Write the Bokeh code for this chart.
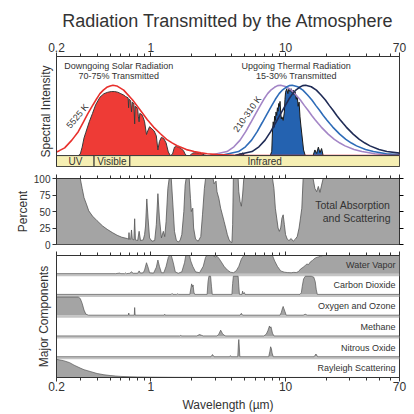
from bokeh.plotting import figure
from bokeh.layouts import column
from bokeh.models import (Range1d, FixedTicker, LinearAxis, LogAxis, Label,
                          CustomJSTickFormatter)
from bokeh.embed import file_html
from bokeh.resources import INLINE

FONT = "Liberation Sans"
TXT = "#333333"
LINE = "#333333"

TITLE = "Radiation Transmitted by the Atmosphere"
x_tick_vals = [0.2, 1, 10, 70]
x_minor_vals = [0.3, 0.4, 0.5, 0.6, 0.7, 0.8, 0.9, 2, 3, 4, 5, 6, 7, 8, 9,
                20, 30, 40, 50, 60]
pct_ticks = [0, 25, 50, 75, 100]

band_names = ["UV", "Visible", "Infrared"]
band_left = [0.2, 0.38, 0.7]
band_right = [0.38, 0.7, 70]
band_center = [0.276, 0.516, 7.0]

# ---- Spectral intensity panel (normalised) ----
solar_bb_wl = [0.2, 0.21, 0.23, 0.26, 0.29, 0.315, 0.34, 0.367, 0.395, 0.42, 0.445,
               0.472, 0.5, 0.5245, 0.56, 0.63, 0.734, 0.84, 0.944, 1.05, 1.18, 1.31,
               1.44, 1.57, 1.84, 2.1, 2.36, 2.62, 3.15, 4.2, 5.5, 7.0, 10.0, 70.0]
solar_bb_val = [0.05, 0.07, 0.11, 0.22, 0.34, 0.47, 0.59, 0.70, 0.80, 0.88, 0.93,
                0.97, 0.99, 1.0, 0.99, 0.93, 0.79, 0.64, 0.51, 0.405, 0.31, 0.23,
                0.18, 0.14, 0.085, 0.057, 0.039, 0.027, 0.014, 0.005, 0.002, 0.001, 0.0, 0.0]

therm310_wl = [2.76, 3.68, 4.14, 4.6, 5.06, 5.52, 5.98, 6.44, 6.9, 7.36, 7.82, 8.28, 8.74,
               9.2, 10.12, 11.04, 11.96, 12.88, 13.8, 14.72, 15.64, 16.56, 17.48, 18.4,
               20.7, 23.0, 25.3, 27.6, 32.2, 36.8, 46.0, 55.2, 70.0]
therm260_wl = [3.36, 4.48, 5.04, 5.6, 6.16, 6.72, 7.28, 7.84, 8.4, 8.96, 9.52, 10.08, 10.64,
               11.2, 12.32, 13.44, 14.56, 15.68, 16.8, 17.92, 19.04, 20.16, 21.28, 22.4,
               25.2, 28.0, 30.8, 33.6, 39.2, 44.8, 56.0, 67.2, 70.0]
therm210_wl = [4.23, 5.64, 6.345, 7.05, 7.755, 8.46, 9.165, 9.87, 10.575, 11.28, 11.985,
               12.69, 13.395, 14.1, 15.51, 16.92, 18.33, 19.74, 21.15, 22.56, 23.97, 25.38,
               26.79, 28.2, 31.725, 35.25, 38.775, 42.3, 49.35, 56.4, 70.0]
therm310_val = [0.004, 0.057, 0.125, 0.22, 0.34, 0.47, 0.59, 0.70, 0.80, 0.88, 0.935, 0.97,
                0.994, 1.0, 0.978, 0.93, 0.86, 0.79, 0.71, 0.64, 0.57, 0.51, 0.455, 0.405,
                0.305, 0.23, 0.178, 0.138, 0.0865, 0.057, 0.027, 0.014, 0.006]
therm260_val = [0.004, 0.057, 0.125, 0.22, 0.34, 0.47, 0.59, 0.70, 0.80, 0.88, 0.935, 0.97,
                0.994, 1.0, 0.978, 0.93, 0.86, 0.79, 0.71, 0.64, 0.57, 0.51, 0.455, 0.405,
                0.305, 0.23, 0.178, 0.138, 0.0865, 0.057, 0.027, 0.014, 0.012]
therm210_val = [0.004, 0.057, 0.125, 0.22, 0.34, 0.47, 0.59, 0.70, 0.80, 0.88, 0.935, 0.97,
                0.994, 1.0, 0.978, 0.93, 0.86, 0.79, 0.71, 0.64, 0.57, 0.51, 0.455, 0.405,
                0.305, 0.23, 0.178, 0.138, 0.0865, 0.057, 0.035]

solar_tr_wl = [0.29, 0.30, 0.31, 0.32, 0.33, 0.35, 0.37, 0.39, 0.42, 0.45, 0.48, 0.51, 0.54,
               0.57, 0.60, 0.63, 0.65, 0.68, 0.685, 0.69, 0.71, 0.72, 0.73, 0.75, 0.76, 0.765,
               0.78, 0.80, 0.81, 0.82, 0.83, 0.86, 0.88, 0.90, 0.93, 0.95, 0.98, 1.02, 1.06,
               1.10, 1.13, 1.16, 1.20, 1.25, 1.30, 1.35, 1.40, 1.45, 1.50, 1.55, 1.60, 1.65,
               1.70, 1.75, 1.80, 1.85, 1.95, 2.00, 2.05, 2.10, 2.20, 2.30, 2.40, 2.50, 2.60]
solar_tr_val = [0, 0.02, 0.12, 0.25, 0.33, 0.48, 0.60, 0.72, 0.83, 0.88, 0.90, 0.91, 0.91,
                0.90, 0.88, 0.86, 0.84, 0.82, 0.68, 0.80, 0.78, 0.62, 0.76, 0.73, 0.45, 0.70,
                0.69, 0.66, 0.55, 0.48, 0.60, 0.58, 0.54, 0.48, 0.30, 0.35, 0.41, 0.38, 0.35,
                0.28, 0.08, 0.20, 0.26, 0.24, 0.18, 0.05, 0.0, 0.02, 0.12, 0.13, 0.12, 0.11,
                0.09, 0.07, 0.02, 0, 0, 0.02, 0.035, 0.04, 0.04, 0.035, 0.025, 0.01, 0.0]

therm_tr_wl = [4.5, 4.6, 4.7, 4.8, 4.9, 5.0, 7.7, 7.9, 8.0, 8.1, 8.2, 8.3, 8.4, 8.5, 8.6,
               8.7, 8.8, 8.9, 9.0, 9.1, 9.2, 9.3, 9.4, 9.6, 9.8, 9.9, 10.0, 10.2, 10.4, 10.6,
               10.8, 11.0, 11.2, 11.4, 11.6, 11.8, 12.0, 12.2, 12.4, 12.6, 12.8, 13.0, 13.3,
               13.6, 14.0, 16.0, 16.5, 17.0, 17.5, 18.0, 18.5, 19.0]
therm_tr_val = [0, 0.03, 0.01, 0.04, 0.01, 0, 0, 0.06, 0.35, 0.48, 0.40, 0.56, 0.50, 0.62,
                0.57, 0.68, 0.63, 0.74, 0.70, 0.77, 0.62, 0.52, 0.55, 0.50, 0.62, 0.80, 0.90,
                0.95, 0.88, 0.96, 0.91, 0.95, 0.89, 0.93, 0.86, 0.90, 0.80, 0.84, 0.70, 0.76,
                0.55, 0.42, 0.25, 0.08, 0, 0, 0.08, 0.03, 0.12, 0.04, 0.10, 0]

# ---- Total absorption and scattering (%) ----
tot_wl = [0.2, 0.3, 0.31, 0.32, 0.335, 0.347, 0.37, 0.4, 0.44, 0.475,
          0.52, 0.563, 0.61, 0.67, 0.685, 0.69, 0.695, 0.71, 0.72, 0.73,
          0.75, 0.76, 0.77, 0.8, 0.82, 0.84, 0.88, 0.9, 0.915, 0.935,
          0.955, 0.98, 1.02, 1.07, 1.1, 1.13, 1.16, 1.2, 1.24, 1.27,
          1.3, 1.34, 1.37, 1.42, 1.46, 1.5, 1.55, 1.6, 1.65, 1.7,
          1.76, 1.8, 1.83, 1.93, 1.97, 2.0, 2.05, 2.08, 2.15, 2.25,
          2.35, 2.42, 2.5, 2.55, 2.9, 2.95, 3.05, 3.1, 3.2, 3.3,
          3.4, 3.5, 3.6, 3.7, 3.8, 3.9, 4.0, 4.05, 4.1, 4.45,
          4.5, 4.6, 4.7, 4.8, 4.9, 8.0, 8.2, 8.4, 8.6, 8.8,
          9.0, 9.2, 9.4, 9.6, 9.8, 10.0, 10.3, 10.6, 11.0, 11.4,
          11.8, 12.2, 12.6, 12.9, 13.2, 13.5, 16.0, 16.5, 17.0, 17.5,
          18.0, 18.5, 19.0, 70]
tot_val = [100, 100, 85, 71, 60, 51, 43, 36, 28, 23,
           18, 14, 11, 9, 8, 18, 8, 8, 22, 8,
           7, 39, 7, 6, 20, 6, 7, 15, 28, 69,
           40, 10, 5, 6, 30, 77, 40, 10, 20, 12,
           35, 85, 100, 100, 60, 20, 6, 4, 6, 15,
           50, 90, 100, 100, 70, 50, 55, 25, 8, 5,
           12, 45, 85, 100, 100, 92, 96, 80, 70, 55,
           45, 35, 25, 15, 8, 4, 3, 30, 100, 100,
           80, 65, 58, 75, 100, 100, 85, 55, 40, 25,
           20, 25, 40, 45, 30, 15, 8, 6, 9, 5,
           8, 12, 25, 40, 55, 100, 100, 85, 80, 88,
           79, 90, 100, 100]
tot_lines = ["Total Absorption", "and Scattering"]

# ---- Major components (%) ----
comp_names = ["Water Vapor", "Carbon Dioxide", "Oxygen and Ozone", "Methane",
              "Nitrous Oxide", "Rayleigh Scattering"]
h2o_wl = [0.2, 0.55, 0.59, 0.6, 0.64, 0.65, 0.66, 0.7, 0.72, 0.74, 0.8, 0.82, 0.84, 0.88,
          0.9, 0.93, 0.96, 0.98, 1.05, 1.1, 1.13, 1.16, 1.2, 1.25, 1.3, 1.35, 1.38, 1.42,
          1.47, 1.52, 1.6, 1.7, 1.78, 1.82, 1.94, 1.98, 2.05, 2.15, 2.3, 2.45, 2.55, 2.6,
          2.9, 3.0, 3.1, 3.2, 3.3, 3.5, 3.7, 3.9, 4.1, 4.3, 4.5, 4.7, 4.9, 8.0, 8.3, 8.7,
          9.2, 9.8, 10.3, 11.0, 11.5, 12.0, 12.5, 12.9, 13.5, 14.0, 14.4, 14.8, 15.3, 15.8,
          16.2, 16.8, 17.5, 18.2, 18.9, 70]
h2o_val = [0, 0, 3, 0, 0, 4, 0, 2, 10, 2, 2, 15, 3, 5,
           20, 60, 30, 5, 3, 35, 75, 40, 5, 5, 40, 90, 100, 100,
           60, 10, 2, 10, 60, 100, 100, 70, 40, 10, 5, 40, 90, 100,
           100, 92, 96, 85, 70, 40, 20, 8, 5, 15, 40, 80, 100, 100, 70, 40,
           15, 8, 6, 5, 7, 6, 12, 25, 35, 45, 53, 50, 65, 72,
           80, 88, 92, 96, 100, 100]
co2_wl = [0.2, 1.42, 1.44, 1.46, 1.56, 1.58, 1.61, 1.95, 1.98, 2.01, 2.04, 2.06, 2.09, 2.12,
          2.62, 2.66, 2.7, 2.78, 2.82, 2.86, 4.0, 4.05, 4.1, 4.45, 4.5, 4.55, 4.75, 4.8,
          4.85, 4.95, 5.0, 12.8, 13.1, 13.3, 13.6, 14.0, 15.5, 16.2, 16.6, 16.9, 17.2, 70]
co2_val = [0, 0, 5, 0, 0, 3, 0, 0, 30, 58, 42, 52, 12, 0,
           0, 70, 100, 100, 45, 0, 0, 60, 100, 100, 45, 0, 0, 18,
           4, 10, 0, 0, 10, 45, 85, 100, 100, 95, 70, 25, 0, 0]
o3_wl = [0.2, 0.29, 0.3, 0.31, 0.32, 0.33, 0.345, 0.683, 0.687, 0.692, 0.755, 0.76, 0.766,
         1.26, 1.27, 1.28, 4.6, 4.7, 4.8, 9.1, 9.3, 9.5, 9.6, 9.7, 9.9, 10.1, 13.5, 14.0,
         14.5, 70]
o3_val = [100, 100, 92, 65, 28, 6, 0, 0, 12, 0, 0, 42, 0,
          0, 5, 0, 0, 10, 0, 0, 15, 40, 48, 38, 20, 0, 0, 5,
          0, 0]
ch4_wl = [0.2, 1.64, 1.67, 1.7, 2.2, 2.3, 2.37, 2.45, 3.1, 3.2, 3.3, 3.4, 3.5, 3.6, 6.9,
          7.2, 7.4, 7.6, 7.7, 7.8, 8.0, 8.2, 70]
ch4_val = [0, 0, 3, 0, 0, 8, 4, 0, 0, 10, 32, 14, 4, 0, 0,
           10, 30, 55, 45, 50, 15, 0, 0]
n2o_wl = [0.2, 2.8, 2.87, 2.95, 3.85, 3.9, 3.95, 4.42, 4.47, 4.5, 4.53, 4.58, 7.5, 7.65,
          7.75, 7.85, 7.95, 8.1, 16.3, 16.8, 17.3, 70]
n2o_val = [0, 0, 12, 0, 0, 6, 0, 0, 70, 95, 65, 0, 0, 30,
           55, 45, 20, 0, 0, 15, 0, 0]
ray_wl = [0.2, 0.225, 0.25, 0.27, 0.3, 0.32, 0.36, 0.4, 0.45, 0.5, 0.55, 0.6, 0.7, 0.8,
          1.0, 1.5, 3.0, 70]
ray_val = [100, 93, 82, 68, 52, 43, 32, 22, 15, 11, 8, 6, 4, 3, 2, 1, 0.5, 0]

comp_wl = [h2o_wl, co2_wl, o3_wl, ch4_wl, n2o_wl, ray_wl]
comp_val = [h2o_val, co2_val, o3_val, ch4_val, n2o_val, ray_val]

GRAY_FILL = "#a4a4a4"
GRAY_LINE = "#555555"
W = 408
LEFT = 56
RIGHT = 9


def hide_labels(ax):
    ax.major_label_text_font_size = "1px"
    ax.major_label_text_alpha = 0
    ax.major_label_standoff = 0


def style_xaxis(ax, show_labels):
    ax.ticker = FixedTicker(ticks=x_tick_vals, minor_ticks=x_minor_vals)
    ax.axis_line_color = LINE
    ax.major_tick_line_color = LINE
    ax.minor_tick_line_color = LINE
    ax.major_tick_in = 0
    ax.major_tick_out = 4
    ax.minor_tick_in = 0
    ax.minor_tick_out = 3
    if show_labels:
        ax.formatter = CustomJSTickFormatter(code="return String(tick);")
        ax.major_label_text_font = FONT
        ax.major_label_text_font_size = "12px"
        ax.major_label_text_color = TXT
        ax.major_label_standoff = 1
    else:
        hide_labels(ax)


def style_ylabel(ax, label, standoff):
    ax.axis_label = label
    ax.axis_label_text_font = FONT
    ax.axis_label_text_font_size = "12px"
    ax.axis_label_text_font_style = "normal"
    ax.axis_label_text_color = TXT
    ax.axis_label_standoff = standoff
    ax.axis_line_color = LINE


def no_ticks(ax):
    ax.ticker = FixedTicker(ticks=[])
    ax.major_tick_in = 0
    ax.major_tick_out = 0
    ax.minor_tick_in = 0
    ax.minor_tick_out = 0
    hide_labels(ax)


def base(p):
    p.grid.visible = False
    p.outline_line_color = LINE
    p.outline_line_width = 1
    p.background_fill_color = "white"
    p.border_fill_color = "white"


# ================= Panel 1 =================
p1 = figure(width=W, height=172, x_axis_type="log", x_range=Range1d(0.2, 70),
            y_range=Range1d(-0.155, 1.408), x_axis_location="above",
            output_backend="svg", toolbar_location=None, title=TITLE,
            min_border_left=LEFT, min_border_right=RIGHT, min_border_top=55,
            min_border_bottom=6)
base(p1)
p1.title.align = "center"
p1.title.text_font = FONT
p1.title.text_font_size = "18px"
p1.title.text_font_style = "normal"
p1.title.text_color = TXT
p1.title.standoff = 17
style_xaxis(p1.xaxis[0], True)
no_ticks(p1.yaxis[0])
style_ylabel(p1.yaxis[0], "Spectral Intensity", 4)

p1.varea(x=solar_tr_wl, y1=0, y2=solar_tr_val, fill_color="#ee3b36")
p1.line(solar_tr_wl, solar_tr_val, line_color="#3a3a3a", line_width=1)
p1.varea(x=therm_tr_wl, y1=0, y2=therm_tr_val, fill_color="#2462b0")
p1.line(therm_tr_wl, therm_tr_val, line_color="#1a1a1a", line_width=1)
p1.line(therm310_wl, therm310_val, line_color="#a385c6", line_width=1.6)
p1.line(therm260_wl, therm260_val, line_color="#2e6cb8", line_width=1.6)
p1.line(therm210_wl, therm210_val, line_color="#1f2b55", line_width=1.6)
p1.line(solar_bb_wl, solar_bb_val, line_color="#e8302c", line_width=1.6)

p1.quad(left=band_left, right=band_right, bottom=-0.155, top=0,
        fill_color="#f6efb3", line_color=LINE, line_width=1)
p1.text(x=band_center, y=[-0.0775] * 3, text=band_names, text_align="center",
        text_baseline="middle", text_font_size="10px", text_color=TXT,
        text_font={"value": FONT})

for txt, xx, yy in [("Downgoing Solar Radiation", 0.58, 1.28),
                    ("70-75% Transmitted", 0.58, 1.135),
                    ("Upgoing Thermal Radiation", 12.0, 1.28),
                    ("15-30% Transmitted", 12.0, 1.135)]:
    p1.add_layout(Label(x=xx, y=yy, text=txt, text_align="center",
                        text_baseline="middle", text_font=FONT,
                        text_font_size="9px", text_color=TXT))
p1.add_layout(Label(x=0.286, y=0.56, text="5525 K", text_align="center",
                    text_baseline="middle", angle=0.87, text_font=FONT,
                    text_font_size="9px", text_color=TXT))
p1.add_layout(Label(x=5.2, y=0.59, text="210-310 K", text_align="center",
                    text_baseline="middle", angle=0.96, text_font=FONT,
                    text_font_size="9px", text_color=TXT))

# ================= Panel 2 =================
p2 = figure(width=W, height=78, x_axis_type="log", x_range=Range1d(0.2, 70),
            y_range=Range1d(0, 100), x_axis_location="above",
            output_backend="svg", toolbar_location=None,
            min_border_left=LEFT, min_border_right=RIGHT, min_border_top=6,
            min_border_bottom=6)
base(p2)
style_xaxis(p2.xaxis[0], False)
ya = p2.yaxis[0]
ya.ticker = FixedTicker(ticks=pct_ticks)
ya.major_tick_in = 0
ya.major_tick_out = 4
ya.minor_tick_out = 0
ya.minor_tick_in = 0
ya.major_tick_line_color = LINE
ya.major_label_text_font = FONT
ya.major_label_text_font_size = "10px"
ya.major_label_text_color = TXT
ya.major_label_standoff = 2
style_ylabel(ya, "Percent", 1)
ra = LinearAxis(ticker=FixedTicker(ticks=pct_ticks), major_tick_in=0, major_tick_out=4,
                minor_tick_out=0, minor_tick_in=0, axis_line_color=LINE)
hide_labels(ra)
p2.add_layout(ra, "right")

p2.varea(x=tot_wl, y1=0, y2=tot_val, fill_color=GRAY_FILL)
p2.line(tot_wl, tot_val, line_color=GRAY_LINE, line_width=0.8)
p2.add_layout(Label(x=60, y=60, text=tot_lines[0], text_align="right",
                    text_baseline="middle", text_font=FONT, text_font_size="10.5px",
                    text_color=TXT))
p2.add_layout(Label(x=60, y=40, text=tot_lines[1], text_align="right",
                    text_baseline="middle", text_font=FONT, text_font_size="10.5px",
                    text_color=TXT))

# ================= Panel 3 =================
ROW_H = 0.8917
SEP = 0.13
p3 = figure(width=W, height=165, x_axis_type="log", x_range=Range1d(0.2, 70),
            y_range=Range1d(0, 6), x_axis_location="below",
            output_backend="svg", toolbar_location=None,
            min_border_left=LEFT, min_border_right=RIGHT, min_border_top=5,
            min_border_bottom=38)
base(p3)
style_xaxis(p3.xaxis[0], True)
p3.xaxis[0].major_label_standoff = 0
p3.xaxis[0].axis_label = "Wavelength (µm)"
p3.xaxis[0].axis_label_text_font = FONT
p3.xaxis[0].axis_label_text_font_size = "12px"
p3.xaxis[0].axis_label_text_font_style = "normal"
p3.xaxis[0].axis_label_text_color = TXT
p3.xaxis[0].axis_label_standoff = 4
top_ax = LogAxis()
style_xaxis(top_ax, False)
p3.add_layout(top_ax, "above")
no_ticks(p3.yaxis[0])
style_ylabel(p3.yaxis[0], "Major Components", 6)

n = len(comp_names)
for k in range(n):
    bottom = (n - 1 - k) * (ROW_H + SEP)
    if k < n - 1:
        p3.quad(left=0.2, right=70, bottom=bottom - SEP, top=bottom,
                fill_color="#c4c4c4", line_color=None)
    wl = comp_wl[k]
    yv = [bottom + v / 100.0 * ROW_H for v in comp_val[k]]
    p3.varea(x=wl, y1=bottom, y2=yv, fill_color=GRAY_FILL)
    p3.line(wl, yv, line_color=GRAY_LINE, line_width=0.7)
    p3.add_layout(Label(x=65.5, y=bottom + ROW_H * 0.5, text=comp_names[k],
                        text_align="right", text_baseline="middle", text_font=FONT,
                        text_font_size="9px", text_color=TXT))

layout = column(p1, p2, p3, spacing=0)
open("out.html", "w").write(file_html(layout, INLINE))
